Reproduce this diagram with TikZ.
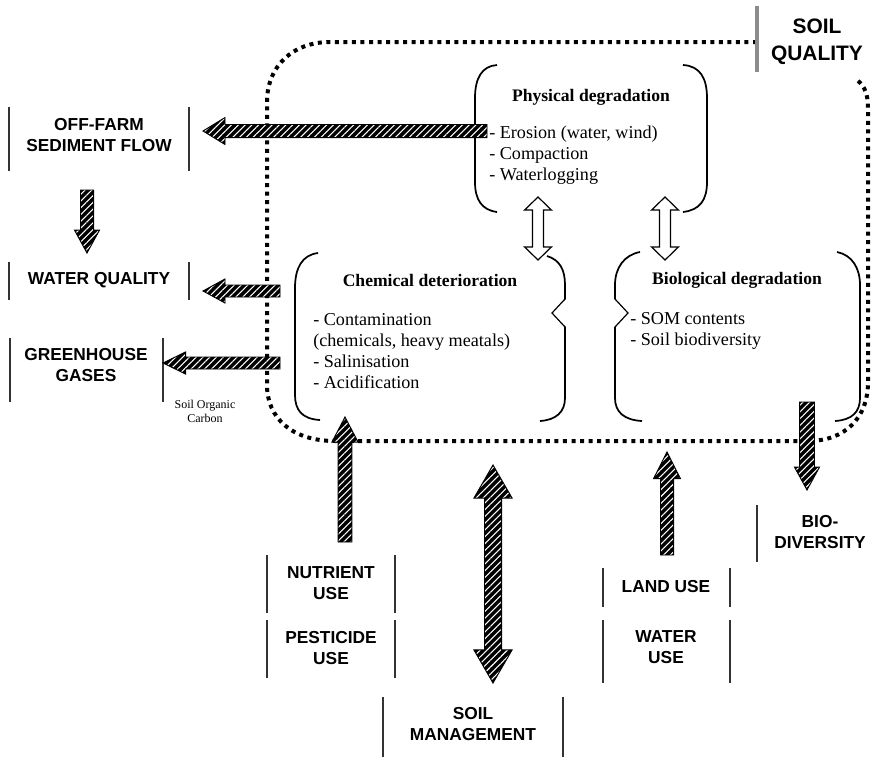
\documentclass[tikz,border=0pt]{standalone}
\usepackage{fontspec}
\setmainfont{Liberation Serif}
\newfontfamily\labelsans{Liberation Sans}
\usetikzlibrary{calc,patterns.meta}

\tikzset{
  border/.style={line width=3pt, dash pattern=on 3pt off 3.4pt},
  bracket/.style={line width=1.3pt},
  bar/.style={line width=1pt, black!80},
  qbar/.style={line width=2.4pt, black!45},
  hatched/.style={preaction={fill=black},
    pattern={Lines[angle=45,distance=3.6pt,line width=0.8pt]}, pattern color=white,
    draw=black, line width=0.7pt, line join=miter},
  hollow/.style={fill=white, draw=black, line width=0.9pt, line join=miter},
  tag/.style={font=\labelsans\bfseries\fontsize{13}{15.5}\selectfont, align=center, inner sep=0pt},
  bigtag/.style={font=\labelsans\bfseries\fontsize{15.7}{20}\selectfont, align=center, inner sep=0pt},
  boxtitle/.style={font=\bfseries\fontsize{13.2}{15.8}\selectfont, inner sep=0pt},
  items/.style={font=\fontsize{13.6}{15.8}\selectfont, align=left, inner sep=0pt, anchor=west},
  note/.style={font=\fontsize{9}{10.5}\selectfont, align=center, inner sep=0pt},
}

% single block arrow: style, tail, tip, shaft half-width, head half-width, head length
\newcommand\blockarrow[6]{%
  \coordinate (baH) at ($(#3)!#6!(#2)$);
  \path[#1] ($(#2)!#4!90:(#3)$) -- ($(baH)!#4!90:(#3)$) -- ($(baH)!#5!90:(#3)$) -- (#3)
    -- ($(baH)!#5!-90:(#3)$) -- ($(baH)!#4!-90:(#3)$) -- ($(#2)!#4!-90:(#3)$) -- cycle;
}
% double block arrow: style, tip A, tip B, shaft half-width, head half-width, head length
\newcommand\blockdouble[6]{%
  \coordinate (bdA) at ($(#2)!#6!(#3)$);
  \coordinate (bdB) at ($(#3)!#6!(#2)$);
  \path[#1] (#2) -- ($(bdA)!#5!90:(#3)$) -- ($(bdA)!#4!90:(#3)$) -- ($(bdB)!#4!90:(#3)$)
    -- ($(bdB)!#5!90:(#3)$) -- (#3) -- ($(bdB)!#5!-90:(#3)$) -- ($(bdB)!#4!-90:(#3)$)
    -- ($(bdA)!#4!-90:(#3)$) -- ($(bdA)!#5!-90:(#3)$) -- cycle;
}

\begin{document}
\begin{tikzpicture}[x=0.75pt,y=-0.75pt]
\useasboundingbox (0,0) rectangle (879,757);

% soil quality frame
\draw[border] (757,42) -- (330,42) .. controls (293,42) and (267,66) .. (267,102)
  -- (267,385) .. controls (267,418) and (292,441) .. (335,441) -- (808,441)
  .. controls (845,441) and (868,418) .. (868,382) -- (868,108)
  .. controls (868,95) and (865,86) .. (857,80);
\draw[qbar] (757,6) -- (757,72);
\node[bigtag] (soilq) at (817,42) {SOIL\\QUALITY};

% physical degradation
\draw[bracket] (497,65) .. controls (482,66) and (475,78) .. (475,98) -- (475,182)
  .. controls (475,200) and (482,210) .. (497,212);
\draw[bracket] (683,65) .. controls (700,66) and (707,78) .. (707,98) -- (707,182)
  .. controls (707,200) and (700,210) .. (683,212);
\node[boxtitle] (phys) at (591,97) {Physical degradation};
\node[items] (physitems) at (489,155) {- Erosion (water, wind)\\- Compaction\\- Waterlogging};

% chemical deterioration
\draw[bracket] (318,253) .. controls (302,255) and (295,268) .. (295,288) -- (295,395)
  .. controls (295,410) and (302,419) .. (320,420);
\draw[bracket] (547,256) .. controls (560,260) and (565,270) .. (565,285) -- (565,398)
  .. controls (565,412) and (556,420) .. (540,421);
\node[boxtitle] (chem) at (430,280) {Chemical deterioration};
\node[items] (chemitems) at (313,351) {- Contamination\\(chemicals, heavy meatals)\\- Salinisation\\- Acidification};

% biological degradation
\draw[bracket] (640,252) .. controls (624,255) and (615,268) .. (615,285) -- (615,398)
  .. controls (615,412) and (624,420) .. (642,421);
\draw[bracket] (837,252) .. controls (852,255) and (860,268) .. (860,285) -- (860,398)
  .. controls (860,412) and (852,420) .. (835,421);
\node[boxtitle] (bio) at (737,280) {Biological degradation};
\node[items] (bioitems) at (630,330.5) {- SOM contents\\- Soil biodiversity};

% links between the degradation types
\coordinate (pcA) at (538,197); \coordinate (pcB) at (538,260);
\coordinate (pbA) at (665,197); \coordinate (pbB) at (665,260);
\blockdouble{hollow}{pcA}{pcB}{4.1pt}{10.1pt}{9.8pt}
\blockdouble{hollow}{pbA}{pbB}{4.1pt}{10.1pt}{9.8pt}
\fill[white] (566,299) -- (552,313) -- (566,327) -- cycle;
\draw[line width=0.9pt, line join=miter] (565,299) -- (552,313) -- (565,327);
\fill[white] (614,299) -- (628,313) -- (614,327) -- cycle;
\draw[line width=0.9pt, line join=miter] (615,299) -- (628,313) -- (615,327);

% outside labels
\node[tag] (offfarm) at (99,135) {OFF-FARM\\SEDIMENT FLOW};
\draw[bar] (9,107) -- (9,171); \draw[bar] (189,107) -- (189,171);
\node[tag] (waterq) at (99,280) {WATER QUALITY};
\draw[bar] (9,262) -- (9,300); \draw[bar] (189,262) -- (189,300);
\node[tag] (ghg) at (86,365) {GREENHOUSE\\GASES};
\draw[bar] (10,338) -- (10,402); \draw[bar] (163,338) -- (163,402);
\node[note] (soc) at (205,411) {Soil Organic\\Carbon};
\node[tag] (nutrient) at (331,583) {NUTRIENT\\USE};
\draw[bar] (267,555) -- (267,613); \draw[bar] (395,555) -- (395,613);
\node[tag] (pesticide) at (331,648) {PESTICIDE\\USE};
\draw[bar] (267,620) -- (267,678); \draw[bar] (395,620) -- (395,678);
\node[tag] (soilman) at (473,724) {SOIL\\MANAGEMENT};
\draw[bar] (383,697) -- (383,757); \draw[bar] (563,697) -- (563,757);
\node[tag] (landuse) at (666,587) {LAND USE};
\draw[bar] (603,568) -- (603,607); \draw[bar] (730,568) -- (730,607);
\node[tag] (wateruse) at (666,647) {WATER\\USE};
\draw[bar] (603,620) -- (603,683); \draw[bar] (730,620) -- (730,683);
\node[tag] (biodiv) at (820,532) {BIO-\\DIVERSITY};
\draw[bar] (757,505) -- (757,562);

% hatched flow arrows
\coordinate (sedTail) at (487,131); \coordinate (sedTip) at (203,131);
\blockarrow{hatched}{sedTail}{sedTip}{4.9pt}{10.1pt}{16.5pt}
\coordinate (sfTail) at (87,190); \coordinate (sfTip) at (87,253);
\blockarrow{hatched}{sfTail}{sfTip}{4.9pt}{9.4pt}{17.2pt}
\coordinate (wqTail) at (280,291); \coordinate (wqTip) at (203,291);
\blockarrow{hatched}{wqTail}{wqTip}{4.5pt}{9pt}{16.5pt}
\coordinate (ghgTail) at (280,363); \coordinate (ghgTip) at (163,363);
\blockarrow{hatched}{ghgTail}{ghgTip}{4.5pt}{8.3pt}{17pt}
\coordinate (nuTail) at (345,542); \coordinate (nuTip) at (345,417);
\blockarrow{hatched}{nuTail}{nuTip}{5.2pt}{9.8pt}{18.8pt}
\coordinate (smA) at (493,465); \coordinate (smB) at (493,683);
\blockdouble{hatched}{smA}{smB}{6.4pt}{14.3pt}{24.8pt}
\coordinate (luTail) at (667,555); \coordinate (luTip) at (667,452);
\blockarrow{hatched}{luTail}{luTip}{4.9pt}{10.1pt}{20pt}
\coordinate (bdTail) at (807,402); \coordinate (bdTip) at (807,490);
\blockarrow{hatched}{bdTail}{bdTip}{5.6pt}{9.4pt}{17.2pt}
\end{tikzpicture}
\end{document}
